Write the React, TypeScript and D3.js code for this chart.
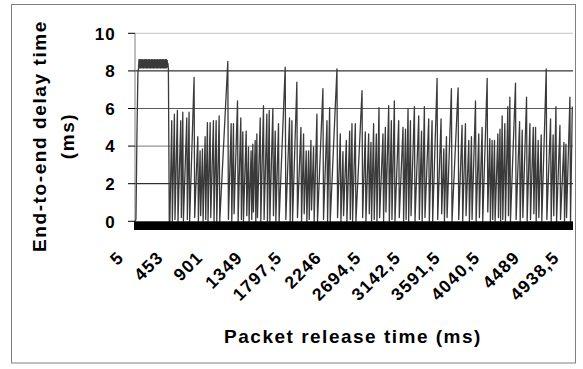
import React from 'react';
import * as d3 from 'd3';

// Chart frame
const W = 583;
const H = 369;
const plot = { left: 135, right: 573, top: 33.3, bottom: 221.3 };

// y axis ticks (ms) and x axis tick labels (packet release time, ms)
const yTicks = [0, 2, 4, 6, 8, 10];
const xTickValues = [5, 453, 901, 1349, 1797.5, 2246, 2694.5, 3142.5, 3591.5, 4040.5, 4489, 4938.5];
const xTickLabels = ['5', '453', '901', '1349', '1797,5', '2246', '2694,5', '3142,5', '3591,5', '4040,5', '4489', '4938,5'];

// start-up phase: the queue fills and stays saturated
const plateauTimes = [
  5, 16, 27, 38, 46, 50, 54, 58, 62, 66, 70, 74, 78, 82, 86, 90, 94, 98, 102, 106,
  110, 114, 118, 122, 126, 130, 134, 138, 142, 146, 150, 154, 158, 162, 166, 170, 174, 178, 182, 186,
  190, 194, 198, 202, 206, 210, 214, 218, 222, 226, 230, 234, 238, 242, 246, 250, 254, 258, 262, 266,
  270, 274, 278, 282, 286, 290, 294, 298, 302, 306, 310, 314, 318, 322, 326, 330, 334, 338, 342, 346,
  350, 354, 358, 362, 366, 370, 374, 378, 383, 388, 393
];
const plateauDelays = [
  0, 0.1, 4.6, 7.9, 8.2, 8.6, 8.15, 8.6, 8.2, 8.6, 8.15, 8.55, 8.2, 8.6, 8.15, 8.6, 8.2, 8.6, 8.15, 8.55,
  8.2, 8.6, 8.15, 8.6, 8.2, 8.6, 8.15, 8.6, 8.2, 8.55, 8.15, 8.6, 8.2, 8.6, 8.15, 8.6, 8.2, 8.55, 8.15, 8.6,
  8.2, 8.6, 8.15, 8.6, 8.2, 8.55, 8.15, 8.6, 8.2, 8.6, 8.15, 8.6, 8.2, 8.55, 8.15, 8.6, 8.2, 8.6, 8.15, 8.6,
  8.2, 8.55, 8.15, 8.6, 8.2, 8.6, 8.15, 8.6, 8.2, 8.55, 8.15, 8.6, 8.2, 8.6, 8.15, 8.6, 8.2, 8.55, 8.15, 8.6,
  8.2, 8.6, 8.15, 8.6, 8.2, 8.55, 8.2, 8.4, 8.1, 4.2, 0
];

// sawtooth phase: start of each rise (trough) and its peak
const troughTimes = [
  400, 428, 458, 492, 530, 553, 598, 624, 681, 723,
  749, 776, 806, 832, 863, 900, 931, 965, 1063, 1101,
  1127, 1173, 1210, 1233, 1271, 1297, 1327, 1346, 1373, 1392,
  1430, 1467, 1505, 1532, 1573, 1600, 1637, 1713, 1762, 1789,
  1845, 1891, 1921, 1951, 1978, 2004, 2034, 2072, 2140, 2186,
  2216, 2299, 2337, 2367, 2405, 2443, 2469, 2507, 2583, 2620,
  2658, 2684, 2714, 2745, 2775, 2820, 2847, 2885, 2915, 2949,
  2998, 3047, 3075, 3104, 3131, 3176, 3225, 3257, 3289, 3338,
  3376, 3433, 3478, 3509, 3539, 3595, 3671, 3716, 3754, 3792,
  3822, 3868, 3905, 3943, 4000, 4030, 4056, 4083, 4121, 4145,
  4170, 4200, 4234, 4257, 4321, 4367, 4397, 4446, 4484, 4522,
  4548, 4578, 4612, 4669, 4718, 4747, 4779, 4824, 4869, 4892,
  4937
];
const troughDelays = [
  0, 0, 0.1, 0, 0.2, 0, 0.1, 0, 0.2, 0,
  0.3, 0, 0.1, 0, 0.2, 0, 0, 0, 0.1, 0,
  0.4, 0, 0.1, 0, 0.3, 0, 0.1, 0.5, 0, 0.2,
  0, 0.1, 0, 0, 0.3, 0, 0, 0.1, 0, 0,
  0.2, 0, 0.4, 0, 0.1, 0.6, 0, 0, 0.1, 0,
  0, 0.2, 0, 0.3, 0, 0.1, 0, 0, 0.2, 0,
  0.4, 0, 0.1, 0, 0.2, 0, 0.5, 0, 0.1, 0,
  0.2, 0, 0.1, 0, 0.3, 0, 0.1, 0, 0.2, 0,
  0, 0.1, 0.4, 0, 0.2, 0, 0.1, 0, 0.3, 0,
  0.1, 0, 0.2, 0, 0.5, 0, 0.1, 0, 0.2, 0,
  0.1, 0, 0.3, 0, 0.1, 0, 0.2, 0, 0.1, 0.4,
  0, 0.2, 0, 0.1, 0, 0.3, 0, 0.1, 0, 0.2,
  0
];
const peakTimes = [
  421, 451, 485, 523, 546, 591, 617, 674, 716, 742,
  769, 799, 825, 856, 893, 924, 958, 1056, 1094, 1120,
  1166, 1203, 1226, 1264, 1290, 1320, 1339, 1366, 1385, 1423,
  1460, 1498, 1525, 1566, 1593, 1630, 1706, 1755, 1782, 1838,
  1884, 1914, 1944, 1971, 1997, 2027, 2065, 2133, 2179, 2209,
  2292, 2330, 2360, 2398, 2436, 2462, 2500, 2576, 2613, 2651,
  2677, 2707, 2738, 2768, 2813, 2840, 2878, 2908, 2942, 2991,
  3040, 3068, 3097, 3124, 3169, 3218, 3250, 3282, 3331, 3369,
  3426, 3471, 3502, 3532, 3588, 3664, 3709, 3747, 3785, 3815,
  3861, 3898, 3936, 3993, 4023, 4049, 4076, 4114, 4138, 4163,
  4193, 4227, 4250, 4314, 4360, 4390, 4439, 4477, 4515, 4541,
  4571, 4605, 4662, 4711, 4740, 4772, 4817, 4862, 4885, 4930,
  4957
];
const peakDelays = [
  5.35, 5.7, 5.9, 5.35, 5.8, 5.5, 5.8, 7.65, 4.5, 3.75,
  3.85, 4.5, 5.25, 5.25, 5.35, 5.35, 5.6, 8.5, 5.2, 5.2,
  6.4, 5.5, 4.75, 4.8, 3.95, 3.75, 4.1, 4.3, 4.65, 5.5,
  6.15, 5.7, 5.9, 6.0, 4.8, 5.2, 8.2, 5.5, 5.35, 7.4,
  5.0, 4.65, 3.75, 3.75, 4.3, 3.95, 5.7, 7.05, 5.35, 6.05,
  8.1, 4.65, 3.7, 4.3, 4.8, 5.2, 5.2, 6.95, 4.75, 4.65,
  4.2, 5.2, 4.65, 6.05, 4.65, 5.0, 6.15, 5.35, 6.4, 5.35,
  5.0, 4.9, 6.0, 5.35, 6.1, 5.6, 4.8, 6.1, 5.45, 5.35,
  7.6, 5.45, 3.85, 4.5, 7.05, 7.1, 5.1, 5.2, 4.3, 4.5,
  6.4, 4.65, 5.0, 7.6, 4.4, 4.3, 4.3, 4.65, 4.9, 5.6,
  5.2, 6.1, 6.6, 7.35, 5.3, 4.85, 6.6, 5.2, 5.0, 5.0,
  4.3, 4.6, 8.1, 5.45, 4.6, 6.1, 5.1, 4.2, 4.1, 6.6,
  6.1
];

const gridColors: Record<number, string> = { 10: '#c4c4c4', 8: '#000', 6: '#5a5a5a', 4: '#7a7a7a', 2: '#000' };
const font = '"Liberation Sans", Arial, sans-serif';

export default function App() {
  const x = d3.scaleLinear().domain([5, 4965]).range([plot.left, plot.right]);
  const y = d3.scaleLinear().domain([0, 10]).range([plot.bottom, plot.top]);

  // build the series: plateau, then trough -> peak for each tooth
  const points: [number, number][] = plateauTimes.map((t, i) => [t, plateauDelays[i]]);
  peakTimes.forEach((t, i) => {
    points.push([troughTimes[i], troughDelays[i]]);
    points.push([t, peakDelays[i]]);
  });

  const line = d3.line<[number, number]>()
    .x((d) => x(d[0]))
    .y((d) => y(d[1]));

  return (
    <svg width={W} height={H} style={{ position: 'absolute', left: 0, top: 0, background: '#fff' }}>
      <rect x={11.5} y={4.5} width={564} height={358.5} fill="none" stroke="#808080" strokeWidth={1} />

      {/* gridlines */}
      {yTicks.filter((v) => v > 0).map((v) => (
        <line key={'g' + v} x1={plot.left} x2={plot.right} y1={y(v)} y2={y(v)} stroke={gridColors[v]} strokeWidth={1} />
      ))}

      {/* y axis */}
      <line x1={plot.left} x2={plot.left} y1={plot.top} y2={plot.bottom} stroke="#808080" strokeWidth={1} />
      {yTicks.map((v) => (
        <g key={'t' + v}>
          <line x1={plot.left - 7} x2={plot.left} y1={y(v)} y2={y(v)} stroke="#000" strokeWidth={1} />
          <text x={116} y={y(v) + 6.3} textAnchor="end" letterSpacing={1.2}
            fontFamily={font} fontWeight="bold" fontSize={17}>{v}</text>
        </g>
      ))}

      {/* data */}
      <path d={line(points) || ''} fill="none" stroke="#3a3a3a" strokeWidth={1.3} strokeLinejoin="round" />

      {/* dense category ticks merge into a solid bar */}
      <rect x={plot.left - 1} y={plot.bottom} width={plot.right - plot.left + 1} height={8.7} fill="#000" />

      {/* x tick labels */}
      {xTickValues.map((v, i) => (
        <text key={'x' + i} x={0} y={0} transform={`translate(${x(v) - 10},258.5) rotate(-45)`} textAnchor="end"
          letterSpacing={1.3} fontFamily={font} fontWeight="bold" fontSize={17.5}>{xTickLabels[i]}</text>
      ))}

      {/* axis titles */}
      <text x={353} y={343} textAnchor="middle" letterSpacing={1.5}
        fontFamily={font} fontWeight="bold" fontSize={19}>Packet release time (ms)</text>
      <text transform="translate(46,136) rotate(-90)" textAnchor="middle" letterSpacing={1.6}
        fontFamily={font} fontWeight="bold" fontSize={19}>End-to-end delay time</text>
      <text transform="translate(74,136) rotate(-90)" textAnchor="middle" letterSpacing={1.6}
        fontFamily={font} fontWeight="bold" fontSize={19}>(ms)</text>
    </svg>
  );
}
